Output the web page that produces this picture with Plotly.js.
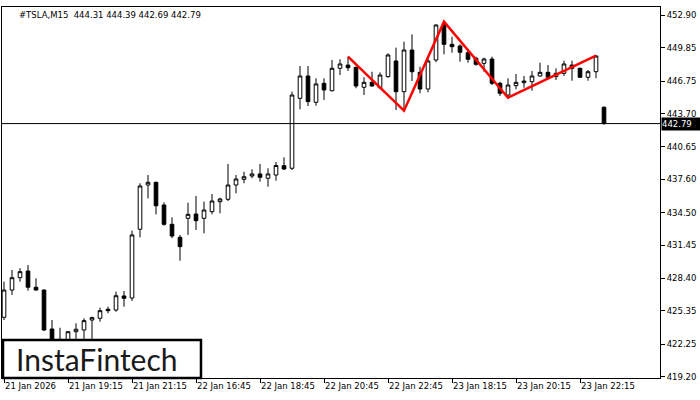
<!DOCTYPE html>
<html>
<head>
<meta charset="utf-8">
<script src="https://cdn.plot.ly/plotly-3.0.1.min.js"></script>
<style>html,body{margin:0;padding:0;background:#fff;}#chart{width:700px;height:400px;}</style>
</head>
<body>
<div id="chart"></div>
<script>
const symbol = "#TSLA,M15";
const barIndex = [];
const opens = [
424.75,427.29,428.44,429.06,427.55,427.29,423.66,422.2,422.6,423.41,
423.57,424.50,424.66,425.50,425.43,426.74,426.55,432.95,437.07,437.32,
435.21,433.41,432.20,433.97,434.37,433.97,434.59,435.52,435.74,437.07,
437.60,437.91,438.10,437.70,438.00,438.87,438.63,445.14,447.22,444.77,
446.54,445.85,447.94,448.24,448.03,446.17,446.63,446.13,447.16,448.62,
445.76,449.64,447.56,446.01,448.71,452.03,450.17,450.01,449.39,448.87,
448.40,448.80,446.54,445.45,446.32,446.60,446.69,447.22,447.56,447.16,
447.47,448.24,447.94,447.10,447.62,444.31];
const highs = [
428.07,429.16,429.32,429.62,428.38,427.35,424.50,423.78,423.48,424.19,
424.66,424.81,425.65,425.74,427.14,427.20,432.82,437.23,438.00,437.38,
435.46,434.06,432.42,435.42,436.05,435.52,436.23,435.89,439.03,438.00,
438.31,438.53,439.03,438.63,439.21,439.65,445.76,448.15,448.15,447.01,
447.01,448.71,448.78,449.02,448.09,447.10,447.62,447.56,449.33,449.86,
450.41,451.10,448.09,448.87,452.03,452.30,450.88,450.17,449.64,449.02,
448.92,449.02,446.69,447.01,447.41,447.22,447.69,448.46,448.24,447.94,
448.64,448.64,447.99,447.78,449.18,444.39];
const lows = [
424.50,426.83,428.07,427.23,427.25,423.48,421.8,421.9,422.3,422.4,
422.64,422.64,424.34,425.13,425.27,425.74,426.27,432.20,435.83,434.34,
433.28,432.11,430.02,432.42,432.88,432.57,434.34,434.44,435.58,436.30,
437.23,437.70,437.38,436.91,437.47,438.47,438.47,444.12,444.43,444.45,
444.99,445.78,447.31,447.69,446.08,445.45,446.22,446.08,447.06,444.05,
444.0,446.75,445.61,445.70,448.50,449.24,449.39,448.55,448.46,448.18,
447.62,446.38,445.36,445.2,445.98,446.13,445.85,447.16,446.91,446.85,
447.22,446.78,447.08,446.78,447.01,442.69];
const closes = [
427.29,428.44,429.00,427.55,427.29,423.57,422.1,422.7,423.41,423.64,
424.44,424.72,425.37,425.37,426.76,426.52,432.42,436.98,437.32,435.14,
433.41,432.32,431.33,434.34,433.75,434.74,435.58,435.77,437.07,437.63,
437.84,438.10,437.79,438.10,438.89,438.56,445.45,447.22,444.83,446.48,
445.92,447.94,448.34,447.99,446.29,446.63,446.29,447.31,449.18,445.76,
449.64,447.62,446.01,448.62,451.97,450.17,449.95,449.43,448.78,448.31,
448.80,446.54,445.61,446.38,446.63,446.75,447.22,447.56,447.10,447.47,
448.34,447.94,447.10,447.62,449.08,442.79];
for (let i = 0; i < opens.length; i++) barIndex.push(i);

const timeTickIdx = [0, 8, 16, 24, 32, 40, 48, 56, 64, 72];
const timeTickLabels = ["21 Jan 2026","21 Jan 19:15","21 Jan 21:15","22 Jan 16:45","22 Jan 18:45",
  "22 Jan 20:45","22 Jan 22:45","23 Jan 18:15","23 Jan 20:15","23 Jan 22:15"];
const priceTicks = [452.90,449.85,446.75,443.70,440.65,437.60,434.50,431.45,428.40,425.35,422.25,419.20];

const patternIdx = [43, 50, 55, 63, 74];
const patternPrice = [449.02, 443.99, 452.28, 445.20, 449.11];

const last = opens.length - 1;
const lastClose = closes[last];
const f2 = v => v.toFixed(2);
const titleText = symbol + "&nbsp;&nbsp;" + [opens[last], highs[last], lows[last], closes[last]].map(f2).join(" ");

const FONT = "DejaVu Sans, Verdana, sans-serif";
const FS = 8.5;

const traces = [
  {
    type: "candlestick",
    x: barIndex, open: opens, high: highs, low: lows, close: closes,
    increasing: {line: {color: "#000", width: 1}, fillcolor: "#fff"},
    decreasing: {line: {color: "#000", width: 1}, fillcolor: "#000"},
    whiskerwidth: 0,
    hoverinfo: "skip",
    showlegend: false
  },
  {
    type: "scatter", mode: "lines",
    x: patternIdx, y: patternPrice,
    line: {color: "#ff0000", width: 2.5},
    hoverinfo: "skip", showlegend: false
  }
];

const layout = {
  width: 700, height: 400,
  margin: {l: 2, r: 40, t: 7, b: 22},
  paper_bgcolor: "#fff", plot_bgcolor: "#fff",
  boxgap: 0.35,
  showlegend: false,
  font: {family: FONT, size: FS, color: "#000"},
  xaxis: {
    range: [-0.25, 82],
    rangeslider: {visible: false},
    showgrid: false, zeroline: false,
    showline: true, linecolor: "#000", linewidth: 1, mirror: true,
    ticks: "outside", ticklen: 4, tickcolor: "#000", tickwidth: 1,
    tickvals: timeTickIdx, ticktext: timeTickLabels,
    ticklabelposition: "outside right",
    tickfont: {family: FONT, size: FS, color: "#000"},
    fixedrange: true
  },
  yaxis: {
    range: [419.10, 453.645],
    side: "right",
    showgrid: false, zeroline: false,
    showline: true, linecolor: "#000", linewidth: 1, mirror: true,
    ticks: "outside", ticklen: 4, tickcolor: "#000", tickwidth: 1,
    tickvals: priceTicks, tickformat: ".2f",
    tickfont: {family: FONT, size: FS, color: "#000"},
    fixedrange: true
  },
  shapes: [
    {type: "line", xref: "paper", x0: 0, x1: 1, yref: "y", y0: lastClose, y1: lastClose,
     line: {color: "#000", width: 1}},
    {type: "rect", xref: "paper", yref: "paper", x0: 0.0015, x1: 0.3024, y0: 0.0, y1: 0.1024,
     fillcolor: "#fff", line: {color: "#000", width: 2.5}}
  ],
  annotations: [
    {xref: "paper", yref: "paper", x: 0.0228, y: 1, xanchor: "left", yanchor: "top", yshift: -1,
     text: titleText, showarrow: false, font: {family: FONT, size: FS, color: "#000"}},
    {xref: "paper", yref: "y", x: 1, y: lastClose, xanchor: "left", yanchor: "middle", xshift: 1,
     text: f2(lastClose), showarrow: false, bgcolor: "#000", borderpad: 0, width: 38, height: 12,
     align: "left", valign: "middle",
     font: {family: FONT, size: FS, color: "#fff"}},
    {xref: "paper", yref: "paper", x: 0.1445, y: 0.052, xanchor: "center", yanchor: "middle",
     text: "InstaFintech", showarrow: false,
     font: {family: "Lato, Inter, sans-serif", size: 30, color: "#1a1a1a"}}
  ]
};

Plotly.newPlot("chart", traces, layout, {staticPlot: true, displayModeBar: false});
</script>
</body>
</html>
